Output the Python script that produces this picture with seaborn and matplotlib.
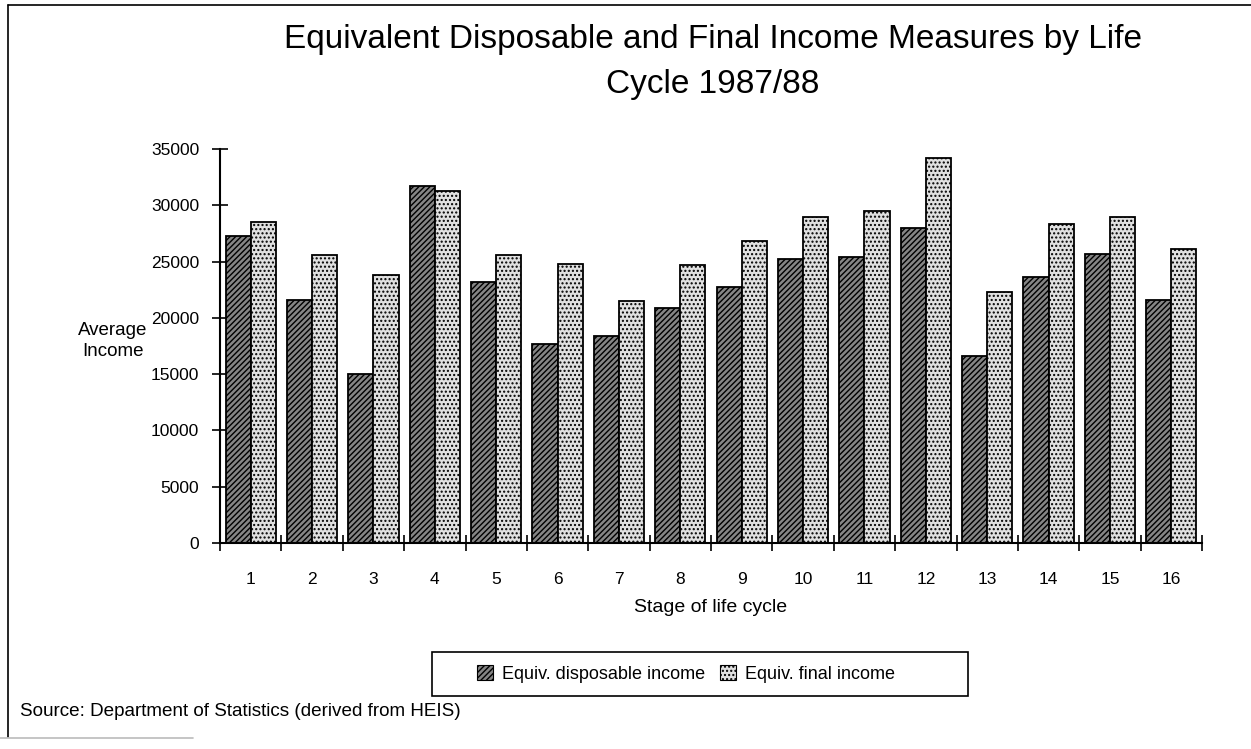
import numpy as np
import pandas as pd
import matplotlib
matplotlib.use("Agg")
import matplotlib.pyplot as plt
from matplotlib.patches import Patch
from matplotlib.lines import Line2D
import seaborn as sns

# Life-cycle stages and average equivalised incomes ($)
stages = [str(i) for i in range(1, 17)]
disposable_income = [27300, 21600, 15000, 31700, 23200, 17700, 18400, 20900,
                     22700, 25200, 25400, 28000, 16600, 23600, 25700, 21600]
final_income = [28500, 25600, 23800, 31300, 25600, 24800, 21500, 24700,
                26800, 29000, 29500, 34200, 22300, 28300, 29000, 26100]
series_names = ["Equiv. disposable income", "Equiv. final income"]
y_ticks = [0, 5000, 10000, 15000, 20000, 25000, 30000, 35000]

sns.set_style("ticks")
plt.rcParams["font.family"] = ["Liberation Sans", "DejaVu Sans"]
plt.rcParams["hatch.linewidth"] = 1.0
for key in ("text.color", "axes.labelcolor", "xtick.color", "ytick.color",
            "axes.edgecolor"):
    plt.rcParams[key] = "black"

df = pd.DataFrame({
    "stage": stages * 2,
    "series": [series_names[0]] * len(stages) + [series_names[1]] * len(stages),
    "income": disposable_income + final_income,
})

W, H = 1251, 749
fig = plt.figure(figsize=(W / 100, H / 100), dpi=100)
ax = fig.add_axes([220 / W, 1 - 543 / H, 982 / W, 394 / H])

fills = {series_names[0]: "#858585", series_names[1]: "#e0e0e0"}
hatches = {series_names[0]: "//////", series_names[1]: "...."}

sns.barplot(data=df, x="stage", y="income", hue="series", order=stages,
            hue_order=series_names, palette=fills, width=0.82,
            edgecolor="black", linewidth=1.3, saturation=1,
            errorbar=None, legend=False, ax=ax)

n = len(stages)
for i, p in enumerate(ax.patches[: 2 * n]):
    p.set_hatch(hatches[series_names[i // n]])

ax.set_xlim(-0.5, n - 0.5)
ax.set_ylim(0, 35000)
for s in ("top", "right"):
    ax.spines[s].set_visible(False)
for s in ("left", "bottom"):
    ax.spines[s].set_linewidth(1.5)

# Category boundaries carry the tick marks; labels sit at the centres
ax.set_xticks(np.arange(-0.5, n, 1.0))
ax.set_xticklabels([])
ax.set_xticks(np.arange(n), minor=True)
ax.set_xticklabels(stages, minor=True)
ax.tick_params(axis="x", which="major", direction="inout", length=12, width=1.2)
ax.tick_params(axis="x", which="minor", length=0, pad=21, labelsize=12.5)

ax.set_yticks(y_ticks)
ax.set_yticklabels([str(v) for v in y_ticks])
ax.tick_params(axis="y", direction="inout", length=12, width=1.2, pad=9,
               labelsize=12.5)

ax.set_xlabel("Stage of life cycle", fontsize=14)
ax.xaxis.set_label_coords(0.5, -0.163)
ax.xaxis.label.set_va("center")
ax.set_ylabel("Average\nIncome", rotation=0, fontsize=13.5, ha="center",
              va="center", linespacing=1.3)
ax.yaxis.set_label_coords(-0.109, 0.513)

fig.text(713 / W, 1 - 62 / H,
         "Equivalent Disposable and Final Income Measures by Life\nCycle 1987/88",
         ha="center", va="center", fontsize=24, linespacing=1.6)

# Legend in a wide box below the axis title
handles = [Patch(facecolor=fills[s], edgecolor="black", hatch=hatches[s],
                 linewidth=0.8) for s in series_names]
fig.legend(handles, series_names, loc="center",
           bbox_to_anchor=(686 / W, 1 - 674 / H), ncol=2, frameon=False,
           fontsize=13, handlelength=0.9, handleheight=0.9,
           handletextpad=0.5, columnspacing=0.8)
fig.add_artist(plt.Rectangle((432 / W, 1 - 696 / H), 536 / W, 44 / H,
                             transform=fig.transFigure, fill=False,
                             edgecolor="black", linewidth=1.2))

fig.text(20 / W, 1 - 711 / H,
         "Source: Department of Statistics (derived from HEIS)",
         ha="left", va="center", fontsize=13.6)

# Page frame
fig.add_artist(Line2D([8 / W, 8 / W], [1 - 5 / H, 1 - 737 / H],
                      transform=fig.transFigure, color="black", lw=1.2))
fig.add_artist(Line2D([8 / W, 1.0], [1 - 5 / H, 1 - 5 / H],
                      transform=fig.transFigure, color="black", lw=1.2))
fig.add_artist(Line2D([0, 193 / W], [1 - 738 / H, 1 - 738 / H],
                      transform=fig.transFigure, color="#bbbbbb", lw=1.2))

fig.savefig("out.png", dpi=100)
